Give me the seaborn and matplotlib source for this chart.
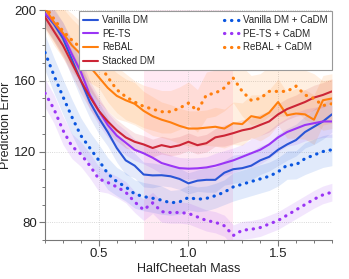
import numpy as np
import pandas as pd
import matplotlib
matplotlib.use("Agg")
import matplotlib.pyplot as plt
import seaborn as sns

mass = [0.2, 0.25, 0.3, 0.35, 0.4, 0.45, 0.5, 0.55, 0.6, 0.65, 0.7, 0.75, 0.8, 0.85, 0.9, 0.95,
        1.0, 1.05, 1.1, 1.15, 1.2, 1.25, 1.3, 1.35, 1.4, 1.45, 1.5, 1.55, 1.6, 1.65, 1.7, 1.75, 1.8]

vanilla = [198, 192, 184, 172, 160, 148, 139, 131, 122, 115, 112, 107, 106.5, 106.6, 106, 104.5,
           102, 103.5, 104, 104, 108, 110, 110.6, 112, 115, 117, 121, 124, 126.5, 131, 134, 137, 141]
pets = [198, 193, 186, 175, 165, 152, 143, 135, 129, 125, 121, 119, 116.5, 113.5, 112, 110.6,
        110.3, 110.5, 111, 112, 113.5, 115, 117, 119, 121, 124, 128, 131, 133, 135, 136, 137, 137]
rebal = [201, 193, 187, 180, 175, 168, 162, 156, 151.5, 149, 147, 143, 140, 138, 136.5, 134.5,
         133, 133, 133.5, 134, 133, 136, 135.5, 140, 139, 142, 148, 140.5, 141.5, 141, 138, 149, 150]
stacked = [196, 188, 180, 170, 160, 151, 143, 137, 132, 128, 125.5, 124, 122, 123.6, 122.5, 123.5,
           125.5, 123.6, 124.7, 128, 129, 130.4, 132, 133, 135, 137, 141, 144, 146, 148, 150.5, 152, 154]
vanilla_cadm = [176, 163, 151, 139.5, 129, 122, 115, 107.5, 103, 100, 96, 94.5, 93.6, 92.5, 91, 91.5,
                94, 93, 93.5, 95, 97, 100, 101.5, 103, 104.5, 106, 108.5, 112.3, 112.5, 116, 118, 120, 121]
pets_cadm = [153, 144, 132, 123, 118.5, 112, 104.5, 102.5, 100, 97, 91.5, 87, 91, 86, 85.5, 85.5,
             85, 83, 81, 80, 78, 72.5, 75.5, 76, 77, 79, 81, 84, 87, 90, 93, 95.5, 97]
rebal_cadm = [202, 195, 188, 183, 178.5, 174, 170, 162, 155, 151, 148, 145.5, 144, 142.5, 142.5, 144.5,
              147.4, 143, 152, 153, 156, 161.5, 154, 149, 150, 154, 154, 154, 157, 152, 150, 146, 147]

vanilla_sd = [8, 9, 9, 10, 10, 9, 9, 8, 8, 8, 7, 7, 7, 6, 6, 6, 6, 6, 7, 7, 7, 8, 8, 8, 8, 8, 9, 9, 9, 9, 10, 10, 10]
pets_sd = [6, 7, 7, 8, 8, 8, 8, 7, 7, 7, 6, 6, 6, 6, 6, 6, 6, 6, 6, 7, 7, 7, 7, 8, 8, 8, 8, 8, 9, 9, 9, 9, 9]
rebal_sd = [12, 13, 14, 15, 15, 14, 14, 13, 13, 12, 12, 11, 11, 10, 10, 10, 10, 10, 10, 11, 11, 12, 12, 12, 13, 13, 13, 13, 14, 14, 14, 14, 14]
stacked_sd = [6, 6, 7, 7, 7, 7, 6, 6, 6, 6, 5, 5, 5, 5, 5, 5, 5, 5, 5, 5, 6, 6, 6, 6, 6, 6, 6, 6, 6, 7, 7, 7, 7]
vanilla_cadm_sd = [10, 10, 10, 10, 10, 9, 9, 9, 8, 8, 8, 8, 8, 8, 7, 7, 7, 7, 7, 7, 7, 8, 8, 8, 8, 8, 8, 8, 8, 9, 9, 9, 9]
pets_cadm_sd = [8, 8, 8, 7, 7, 7, 7, 6, 6, 6, 6, 6, 6, 6, 6, 6, 6, 6, 6, 6, 6, 6, 5, 5, 5, 5, 5, 5, 5, 5, 5, 5, 5]
rebal_cadm_sd = [12, 13, 14, 15, 15, 15, 14, 14, 13, 13, 12, 12, 12, 12, 12, 12, 12, 12, 13, 13, 13, 14, 14, 14, 14, 14, 14, 14, 14, 14, 14, 14, 14]

labels = ["Vanilla DM", "PE-TS", "ReBAL", "Stacked DM",
          "Vanilla DM + CaDM", "PE-TS + CaDM", "ReBAL + CaDM"]
series = [vanilla, pets, rebal, stacked, vanilla_cadm, pets_cadm, rebal_cadm]
sds = [vanilla_sd, pets_sd, rebal_sd, stacked_sd, vanilla_cadm_sd, pets_cadm_sd, rebal_cadm_sd]

train_lo, train_hi = 0.75, 1.25

BLUE = "#2a55d6"
BLUE_D = "#0a56e0"
PURPLE = "#9a35f5"
ORANGE = "#ff7f0e"
RED = "#cc2536"
colors = [BLUE, PURPLE, ORANGE, RED, BLUE_D, PURPLE, ORANGE]
dotted = [False, False, False, False, True, True, True]

sns.set_theme(style="ticks")
plt.rcParams["font.family"] = ["Liberation Sans", "DejaVu Sans"]

fig = plt.figure(figsize=(3.49, 2.79), dpi=100)
ax = fig.add_axes([0.129, 0.14, 0.822, 0.824])

ax.axvspan(train_lo, train_hi, color="#ff6fb5", alpha=0.15, lw=0, zorder=0)

for lab, vals, sd, c, dt in zip(labels, series, sds, colors, dotted):
    v = np.array(vals, dtype=float)
    s = np.array(sd, dtype=float)
    ax.fill_between(mass, v - s, v + s, color=c, alpha=0.12, lw=0, zorder=1)
    df = pd.DataFrame({"mass": mass, "err": v})
    if dt:
        sns.lineplot(data=df, x="mass", y="err", ax=ax, color=c, label=lab,
                     linestyle=(0, (0.1, 2.1)), lw=2.3, dash_capstyle="round", zorder=3)
    else:
        sns.lineplot(data=df, x="mass", y="err", ax=ax, color=c, label=lab,
                     lw=1.5, zorder=3)

ax.set_xlim(0.2, 1.8)
ax.set_ylim(70, 200)
ax.set_xticks([0.5, 1.0, 1.5])
ax.set_xticks(np.arange(0.2, 1.81, 0.1), minor=True)
ax.set_yticks([80, 120, 160, 200])
ax.set_yticks(np.arange(70, 201, 10), minor=True)
ax.tick_params(axis="both", which="major", labelsize=9.5, length=4, width=0.8,
               color="#777777", labelcolor="#222222", pad=2)
ax.tick_params(axis="both", which="minor", length=2.5, width=0.7, color="#777777")
ax.grid(True, which="major", ls=":", lw=0.6, color="#cccccc")
sns.despine(ax=ax)
for sp in ["left", "bottom"]:
    ax.spines[sp].set_color("#777777")
    ax.spines[sp].set_linewidth(0.8)

ax.set_xlabel("HalfCheetah Mass", fontsize=9, color="#222222", labelpad=2)
ax.set_ylabel("Prediction Error", fontsize=9, color="#222222", labelpad=2)

leg = ax.legend(loc="upper left", bbox_to_anchor=(0.118, 0.5, 0.882, 0.495), mode="expand",
                ncol=2, fontsize=7, handlelength=1.6, handletextpad=0.4,
                labelspacing=0.38, borderpad=0.4, frameon=True, fancybox=False,
                borderaxespad=0)
leg.get_frame().set_edgecolor("#999999")
leg.get_frame().set_linewidth(0.8)
leg.get_frame().set_alpha(1)

fig.savefig("out.png", dpi=100)
